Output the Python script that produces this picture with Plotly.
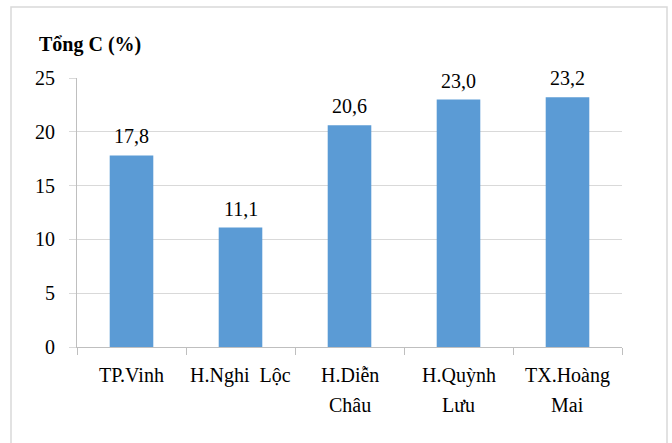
import plotly.graph_objects as go

# Total carbon content by locality
categories = ["TP.Vinh", "H.Nghi  Lộc", "H.Diễn Châu", "H.Quỳnh Lưu", "TX.Hoàng Mai"]
label_lines = [["TP.Vinh"], ["H.Nghi  Lộc"], ["H.Diễn", "Châu"], ["H.Quỳnh", "Lưu"], ["TX.Hoàng", "Mai"]]
values = [17.8, 11.1, 20.6, 23.0, 23.2]
y_ticks = [0, 5, 10, 15, 20, 25]

FONT = "'Liberation Serif', 'Times New Roman', Times, serif"
GRID = "#d9d9d9"
AXIS = "#bfbfbf"
BAR = "#5b9bd5"

W, H = 672, 443
L, R, T, B = 77, 50, 78, 96
pw, ph = W - L - R, H - T - B

fig = go.Figure(
    go.Bar(
        x=categories,
        y=values,
        width=0.4,
        marker=dict(color=BAR, line=dict(width=0)),
        hoverinfo="skip",
    )
)

# Value labels above each bar
for cat, v in zip(categories, values):
    fig.add_annotation(
        x=cat, xref="x", y=v, yref="y",
        text=f"{v:.1f}".replace(".", ","), showarrow=False,
        yanchor="bottom", yshift=6,
        font=dict(family=FONT, size=20, color="#000000"),
    )

# Category names, one annotation per line for wider line spacing
for cat, lines in zip(categories, label_lines):
    for i, line in enumerate(lines):
        fig.add_annotation(
            x=cat, xref="x", y=0, yref="paper",
            text=line, showarrow=False,
            yanchor="middle", yshift=-28 - 30 * i,
            font=dict(family=FONT, size=20, color="#000000"),
        )

# Chart title
fig.add_annotation(
    x=(37 - L) / pw, xref="paper", y=(H - B - 45) / ph, yref="paper",
    text="<b>Tổng C (%)</b>", showarrow=False,
    xanchor="left", yanchor="middle",
    font=dict(family=FONT, size=20, color="#000000"),
)

# Outer chart frame
fig.add_shape(
    type="rect", xref="paper", yref="paper",
    x0=(11 - L) / pw, x1=(667 - L) / pw,
    y0=(H - B - 460) / ph, y1=(H - B - 7) / ph,
    line=dict(color=GRID, width=1.5), fillcolor="rgba(0,0,0,0)",
    layer="below",
)

fig.update_layout(
    width=W, height=H,
    margin=dict(l=L, r=R, t=T, b=B),
    paper_bgcolor="white", plot_bgcolor="white",
    showlegend=False,
    font=dict(family=FONT, size=20, color="#000000"),
)
fig.update_xaxes(
    type="category",
    showline=True, linecolor=AXIS, linewidth=1,
    ticks="outside", tickson="boundaries", ticklen=7, tickcolor=AXIS, tickwidth=1,
    showticklabels=False, showgrid=False, zeroline=False,
    fixedrange=True,
)
fig.update_yaxes(
    range=[0, 25], tickvals=y_ticks,
    showline=True, linecolor=AXIS, linewidth=1,
    ticks="outside", ticklen=7, tickcolor=GRID, tickwidth=1,
    showgrid=True, gridcolor=GRID, gridwidth=1, zeroline=False,
    tickfont=dict(family=FONT, size=20, color="#000000"),
    ticklabelstandoff=10,
    fixedrange=True,
)

fig.write_html("out.html")
